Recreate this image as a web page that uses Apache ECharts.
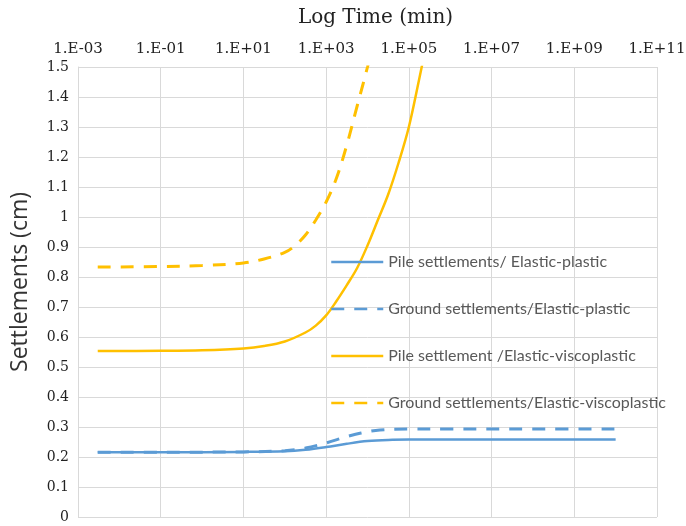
<!DOCTYPE html>
<html>
<head>
<meta charset="utf-8">
<script src="https://cdn.jsdelivr.net/npm/echarts@6/dist/echarts.min.js"></script>
<style>
html,body{margin:0;padding:0;background:#fff;}
#chart{width:686px;height:526px;}
</style>
</head>
<body>
<div id="chart"></div>
<script>
// Time (min) and settlement (cm) values
const pileEPTime   = [3e-3, 1e-1, 1e1, 1e2, 3.16e2, 1e3, 3.16e3, 1e4, 3.16e4, 1e5, 1e6, 1e8, 1e10];
const pileEPVal    = [0.216, 0.216, 0.217, 0.219, 0.224, 0.233, 0.244, 0.253, 0.257, 0.258, 0.258, 0.258, 0.258];

const groundEPTime = [3e-3, 1e-1, 1e1, 1e2, 3.16e2, 1e3, 3.16e3, 7e3, 2e4, 1e5, 1e6, 1e8, 1e10];
const groundEPVal  = [0.216, 0.216, 0.217, 0.221, 0.23, 0.247, 0.268, 0.28, 0.29, 0.293, 0.293, 0.293, 0.293];

const pileEVPTime  = [3e-3, 1e-1, 1, 1e1, 3.16e1, 1e2, 3.16e2, 5.62e2, 1e3, 1.78e3, 3.16e3, 5.62e3, 1e4, 1.78e4, 3.16e4, 5.62e4, 1e5, 1.78e5, 2.51e5];
const pileEVPVal   = [0.553, 0.554, 0.556, 0.562, 0.57, 0.585, 0.615, 0.638, 0.672, 0.72, 0.773, 0.83, 0.905, 0.99, 1.075, 1.18, 1.30, 1.46, 1.56];

const groundEVPTime = [3e-3, 1e-1, 1, 1e1, 3.16e1, 1e2, 1.78e2, 3.16e2, 5.62e2, 1e3, 1.78e3, 3.16e3, 5.62e3, 1e4, 1.26e4];
const groundEVPVal  = [0.833, 0.835, 0.838, 0.847, 0.86, 0.882, 0.905, 0.94, 0.99, 1.05, 1.13, 1.24, 1.37, 1.5, 1.56];

const seriesNames = [
  'Pile settlements/ Elastic-plastic',
  'Ground settlements/Elastic-plastic',
  'Pile settlement /Elastic-viscoplastic',
  'Ground settlements/Elastic-viscoplastic'
];

const xMin = 1e-3, xMax = 1e11, xDecadeStep = 2;
const yMin = 0, yMax = 1.5, yStep = 0.1;

function pairs(t, v) { return t.map((x, i) => [x, v[i]]); }
function fmtExp(val) {
  const e = Math.round(Math.log10(val));
  const s = e < 0 ? '-' : '+';
  const a = Math.abs(e);
  return '1.E' + s + (a < 10 ? '0' + a : '' + a);
}

const blue = '#5B9BD5', orange = '#FFC000';
const chart = echarts.init(document.getElementById('chart'));
const lineBase = { type: 'line', smooth: 0.35, showSymbol: false, symbol: 'none' };
chart.setOption({
  animation: false,
  backgroundColor: '#fff',
  grid: { left: 78, right: 29, top: 67, bottom: 9, outerBoundsMode: 'none', containLabel: false },
  legend: {
    orient: 'vertical',
    left: 330,
    top: 254,
    padding: 0,
    itemWidth: 52,
    itemHeight: 14,
    itemGap: 31,
    itemStyle: { opacity: 0 },
    lineStyle: { width: 2.5 },
    textStyle: { fontFamily: 'Lato', fontSize: 16, color: '#595959' },
    data: seriesNames
  },
  xAxis: {
    type: 'log',
    logBase: 10,
    min: xMin,
    max: xMax,
    interval: xDecadeStep,
    position: 'top',
    name: 'Log Time (min)',
    nameLocation: 'middle',
    nameGap: 39,
    nameTextStyle: { fontFamily: 'DejaVu Serif', fontSize: 20, color: '#222', padding: [0, 0, 0, 16] },
    axisLine: { show: false },
    axisTick: { show: false },
    axisLabel: { fontFamily: 'DejaVu Serif', fontSize: 15, color: '#222', margin: 10, formatter: fmtExp },
    splitLine: { show: true, lineStyle: { color: '#d9d9d9', width: 1 } }
  },
  yAxis: {
    type: 'value',
    min: yMin,
    max: yMax,
    interval: yStep,
    name: 'Settlements (cm)',
    nameLocation: 'middle',
    nameGap: 46,
    nameRotate: 90,
    nameTextStyle: { fontFamily: 'Open Sans', fontSize: 23, color: '#333', padding: [0, 0, 0, 20] },
    axisLine: { show: true, lineStyle: { color: '#d9d9d9' } },
    axisTick: { show: false },
    axisLabel: { fontFamily: 'DejaVu Serif', fontSize: 14, color: '#222', margin: 9 },
    splitLine: { show: true, lineStyle: { color: '#d9d9d9', width: 1 } }
  },
  series: [
    Object.assign({}, lineBase, { name: seriesNames[0], data: pairs(pileEPTime, pileEPVal),
      lineStyle: { color: blue, width: 2.5 }, itemStyle: { color: blue } }),
    Object.assign({}, lineBase, { name: seriesNames[1], data: pairs(groundEPTime, groundEPVal),
      lineStyle: { color: blue, width: 3, type: [13, 10] }, itemStyle: { color: blue } }),
    Object.assign({}, lineBase, { name: seriesNames[2], data: pairs(pileEVPTime, pileEVPVal),
      lineStyle: { color: orange, width: 2.5 }, itemStyle: { color: orange } }),
    Object.assign({}, lineBase, { name: seriesNames[3], data: pairs(groundEVPTime, groundEVPVal),
      lineStyle: { color: orange, width: 3, type: [13, 10] }, itemStyle: { color: orange } })
  ]
});
</script>
</body>
</html>
